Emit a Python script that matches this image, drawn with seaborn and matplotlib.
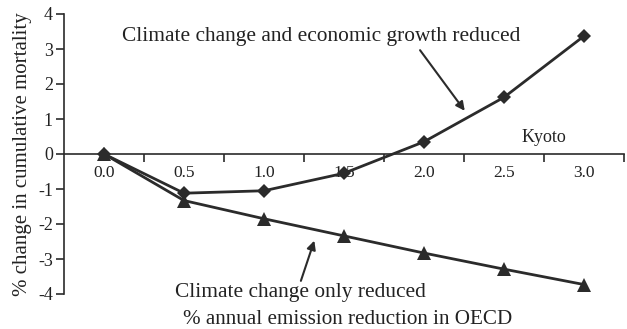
import matplotlib
matplotlib.use("Agg")
import matplotlib.pyplot as plt
import seaborn as sns
import pandas as pd

# Emission-reduction scenarios (% per year in OECD)
reduction_labels = ["0.0", "0.5", "1.0", "1.5", "2.0", "2.5", "3.0"]
growth_reduced = [0.0, -1.12, -1.05, -0.55, 0.35, 1.62, 3.37]
climate_only = [0.0, -1.33, -1.85, -2.34, -2.83, -3.29, -3.73]
y_ticks = [-4, -3, -2, -1, 0, 1, 2, 3, 4]

series_a = "Climate change and economic growth reduced"
series_b = "Climate change only reduced"

positions = list(range(len(reduction_labels)))
df = pd.concat([
    pd.DataFrame({"pos": positions, "change": growth_reduced, "series": series_a}),
    pd.DataFrame({"pos": positions, "change": climate_only, "series": series_b}),
])

sns.set_style("white")
plt.rcParams["font.family"] = ["Liberation Serif", "DejaVu Serif"]

fig = plt.figure(figsize=(6.27, 3.29), dpi=100)
ax = fig.add_axes([64 / 627, 35 / 329, 560 / 627, 280 / 329])

ink = "#2b2b2b"
text_c = "#222222"
sns.lineplot(
    data=df, x="pos", y="change", hue="series", style="series",
    markers={series_a: "D", series_b: "^"}, dashes=False,
    palette={series_a: ink, series_b: ink},
    linewidth=2.0, markersize=7, markeredgewidth=0,
    legend=False, ax=ax,
)
for line in ax.lines:
    if line.get_marker() == "^":
        line.set_markersize(9.5)
    else:
        line.set_markersize(7.5)

ax.set_xlim(-0.5, len(reduction_labels) - 0.5)
ax.set_ylim(-4, 4)

for side in ("top", "right"):
    ax.spines[side].set_visible(False)
ax.spines["bottom"].set_position(("data", 0))
for side in ("left", "bottom"):
    ax.spines[side].set_color(ink)
    ax.spines[side].set_linewidth(1.2)

# tick marks sit between categories, labels at category centres
ax.set_xticks([p + 0.5 for p in positions])
ax.set_xticklabels([])
ax.set_xticks(positions, minor=True)
ax.set_xticklabels(reduction_labels, minor=True)
ax.tick_params(axis="x", which="major", bottom=True, direction="out", length=6,
               width=1.2, color=ink)
ax.tick_params(axis="x", which="minor", bottom=True, length=0, pad=8,
               labelsize=12.5, labelcolor=text_c)

ax.set_yticks(y_ticks)
ax.set_yticklabels([str(t) for t in y_ticks])
ax.tick_params(axis="y", left=True, direction="out", length=6, width=1.2, color=ink,
               labelsize=13, labelcolor=text_c, pad=2)

ax.set_xlabel("")
ax.set_ylabel("% change in cumulative mortality", fontsize=15, color=text_c, labelpad=4)

ax.text(3.05, -4.72, "% annual emission reduction in OECD", ha="center", va="center",
        fontsize=15.2, color=text_c)
ax.text(5.5, 0.48, "Kyoto", ha="center", va="center", fontsize=13, color=text_c)

ax.text(2.72, 3.36, series_a, ha="center", va="center", fontsize=15.4, color=text_c)
ax.annotate("", xy=(4.53, 1.17), xytext=(3.93, 3.03),
            arrowprops=dict(arrowstyle="-|>", color=ink, lw=1.5, mutation_scale=13))
ax.text(2.45, -3.95, series_b, ha="center", va="center", fontsize=15.4, color=text_c)
ax.annotate("", xy=(2.64, -2.4), xytext=(2.45, -3.7),
            arrowprops=dict(arrowstyle="-|>", color=ink, lw=1.5, mutation_scale=13))

fig.savefig("out.png", dpi=100)
